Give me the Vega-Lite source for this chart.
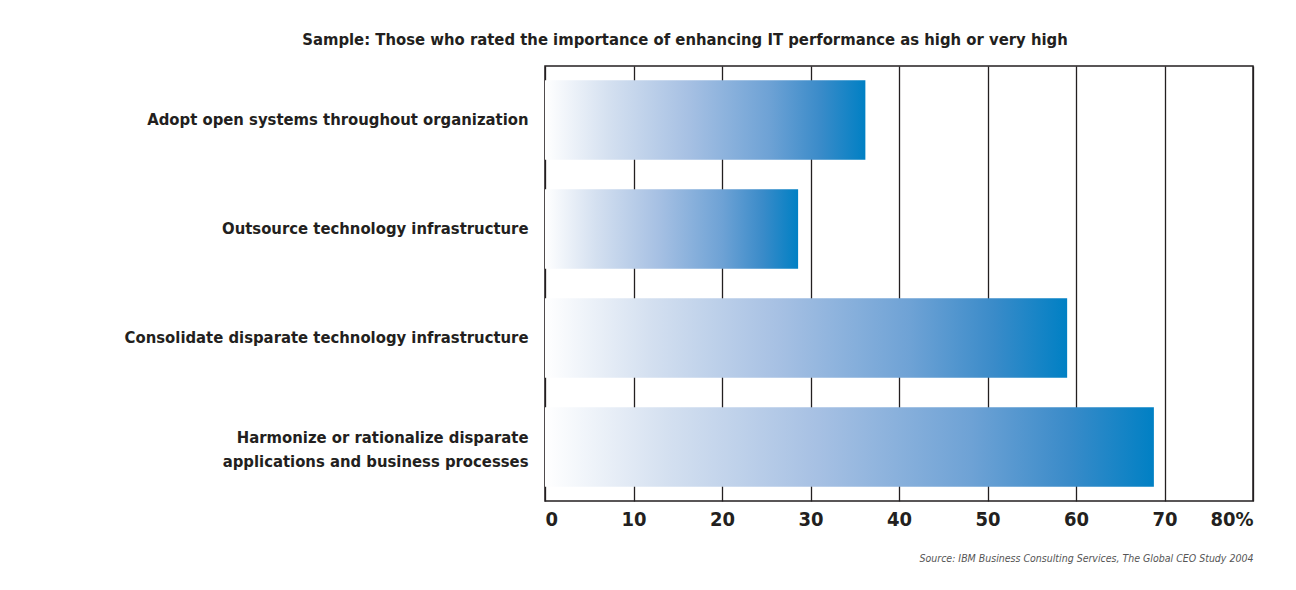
{
  "$schema": "https://vega.github.io/schema/vega-lite/v6.json",
  "autosize": {"type": "none"},
  "padding": {"left": 545, "top": 66, "right": 43, "bottom": 89},
  "width": 708,
  "height": 435,
  "background": "white",
  "title": {
    "text": "Sample: Those who rated the importance of enhancing IT performance as high or very high",
    "anchor": "middle",
    "dx": -214,
    "offset": 18,
    "font": "DejaVu Sans Condensed, sans-serif",
    "fontSize": 16.5,
    "fontWeight": "bold",
    "color": "#231f20"
  },
  "data": {
    "values": [
      {"initiative": "Adopt open systems throughout organization", "pct": 36.2},
      {"initiative": "Outsource technology infrastructure", "pct": 28.6},
      {"initiative": "Consolidate disparate technology infrastructure", "pct": 59},
      {"initiative": "Harmonize or rationalize disparate applications and business processes", "pct": 68.8}
    ]
  },
  "mark": {
    "type": "bar",
    "color": {
      "x1": 0, "y1": 0, "x2": 1, "y2": 0,
      "gradient": "linear",
      "stops": [
        {"offset": 0, "color": "#ffffff"},
        {"offset": 0.2, "color": "#d4e0f0"},
        {"offset": 0.45, "color": "#a6c0e3"},
        {"offset": 0.7, "color": "#6ea2d5"},
        {"offset": 0.86, "color": "#3a8bc9"},
        {"offset": 1, "color": "#0080c4"}
      ]
    }
  },
  "encoding": {
    "y": {
      "field": "initiative",
      "type": "nominal",
      "sort": null,
      "scale": {"paddingInner": 0.27, "paddingOuter": 0.13},
      "axis": {
        "title": null,
        "ticks": false,
        "domain": false,
        "labelPadding": 17,
        "labelFont": "DejaVu Sans Condensed, sans-serif",
        "labelFontSize": 16.5,
        "labelFontWeight": "bold",
        "labelColor": "#231f20",
        "labelLimit": 500,
        "labelLineHeight": 24,
        "labelOffset": {"condition": {"test": "datum.value == 'Harmonize or rationalize disparate applications and business processes'", "value": -9}, "value": 0},
        "labelExpr": "datum.label == 'Harmonize or rationalize disparate applications and business processes' ? ['Harmonize or rationalize disparate', 'applications and business processes'] : datum.label"
      }
    },
    "x": {
      "field": "pct",
      "type": "quantitative",
      "scale": {"domain": [0, 80], "nice": false},
      "axis": {
        "values": [0, 10, 20, 30, 40, 50, 60, 70, 80],
        "ticks": false,
        "domain": false,
        "grid": true,
        "gridColor": "#231f20",
        "gridWidth": 1.3,
        "gridOpacity": 1,
        "labelFlush": true,
        "labelPadding": 8,
        "labelFont": "DejaVu Sans Condensed, sans-serif",
        "labelFontSize": 20,
        "labelFontWeight": "bold",
        "labelColor": "#231f20",
        "labelExpr": "datum.value == 80 ? '80%' : datum.label",
        "title": "Source: IBM Business Consulting Services, The Global CEO Study 2004",
        "titleAnchor": "end",
        "titleAlign": "right",
        "titleFont": "DejaVu Sans Condensed, sans-serif",
        "titleFontSize": 10.5,
        "titleFontStyle": "italic",
        "titleFontWeight": "normal",
        "titleColor": "#555555",
        "titlePadding": 24
      }
    }
  },
  "config": {
    "view": {"stroke": "#231f20", "strokeWidth": 1.5}
  }
}
